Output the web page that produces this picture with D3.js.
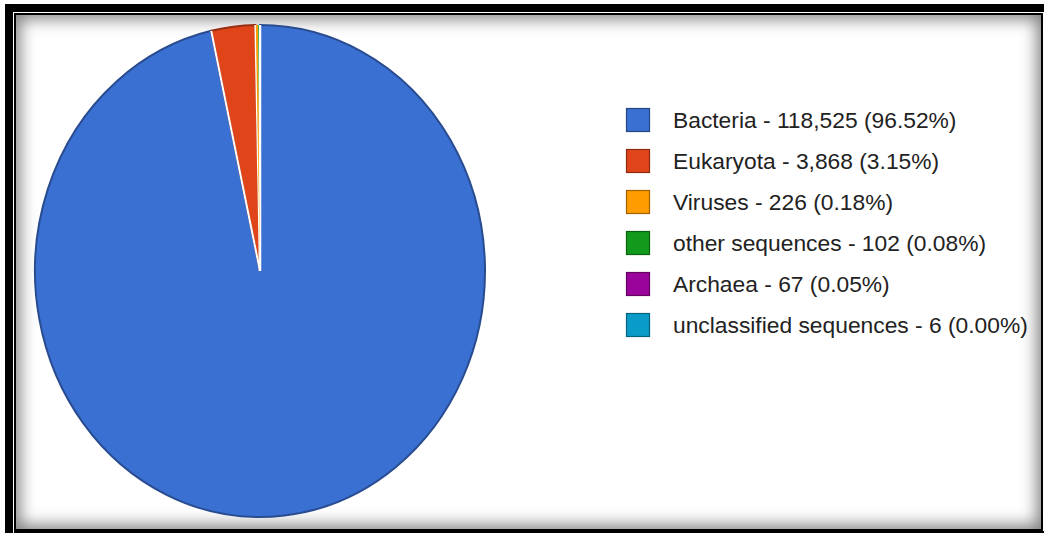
<!DOCTYPE html>
<html>
<head>
<meta charset="utf-8">
<script src="https://cdn.jsdelivr.net/npm/d3@7"></script>
<style>
  html, body { margin: 0; padding: 0; background: #fff; overflow: hidden; }
  #outer {
    position: absolute; left: 5px; top: 4px; width: 1100px; height: 600px;
    border-left: 8px solid #000; border-top: 8px solid #000;
  }
  #panel {
    position: absolute; left: 14px; top: 13px; width: 1025px; height: 514px;
    border: 2px solid #000; background: #fff;
    box-shadow: inset 0 0 16px 4px rgba(0,0,0,0.5);
  }
  #baseline { position: absolute; left: 14px; top: 531px; width: 1040px; height: 2px; background: #000; }
  #chart { position: absolute; left: 0; top: 0; }
</style>
</head>
<body>
<div id="outer"></div>
<div id="panel"></div>
<div id="baseline"></div>
<div id="chart"></div>
<script>
(() => {
  "use strict";

  // domains, counts, shares and colours
  const names = ["Bacteria", "Eukaryota", "Viruses", "other sequences", "Archaea", "unclassified sequences"];
  const counts = [118525, 3868, 226, 102, 67, 6];
  const shares = ["96.52%", "3.15%", "0.18%", "0.08%", "0.05%", "0.00%"];
  const colors = ["#3b70d3", "#e0451a", "#ff9c00", "#129a1c", "#9b049b", "#0a9cc8"];

  const W = 1044, H = 533;
  const NF = new Intl.NumberFormat("en-US");

  const svg = d3.select("#chart").append("svg")
    .attr("width", W).attr("height", H);

  /* ---------- pie (slightly stretched vertically, as in the picture) ---------- */
  const cx = 260, cy = 271, rx = 225, ry = 246;
  const pie = d3.pie().sort(null).value((d) => d.count);
  const arc = d3.arc().innerRadius(0).outerRadius(rx);
  const data = names.map((n, i) => ({ name: n, count: counts[i], color: colors[i] }));
  const arcs = pie(data);
  const total = d3.sum(counts);

  const g = svg.append("g")
    .attr("transform", `translate(${cx},${cy}) scale(1,${ry / rx})`);

  g.selectAll("path.slice")
    .data(arcs)
    .join("path")
    .attr("class", "slice")
    .attr("d", arc)
    .attr("fill", (d) => d.data.color)
    .attr("stroke", (d) => (d.data.count / total > 0.01 ? d3.color(d.data.color).darker(1.1) : "none"))
    .attr("stroke-width", 2)
    .attr("vector-effect", "non-scaling-stroke");

  // white separators: the tiny slices sit in a thin white gap at 12 o'clock
  const sep = (a, w) =>
    g.append("line")
      .attr("x1", 0).attr("y1", 0)
      .attr("x2", Math.sin(a) * rx).attr("y2", -Math.cos(a) * rx)
      .attr("stroke", "#fff").attr("stroke-width", w)
      .attr("vector-effect", "non-scaling-stroke");
  sep(arcs[0].startAngle, 2.5);
  sep(arcs[0].endAngle, 2);
  sep(arcs[1].endAngle, 2);
  // thin orange hairline of the tiny slices
  g.append("path")
    .attr("d", arc({ startAngle: arcs[2].startAngle + 0.002, endAngle: arcs[2].endAngle - 0.002 }))
    .attr("fill", colors[2]);

  /* ---------- legend ---------- */
  const legend = svg.append("g").attr("transform", "translate(626,108)");
  const rowH = 41;
  const rows = legend.selectAll("g.row")
    .data(data)
    .join("g")
    .attr("class", "row")
    .attr("transform", (d, i) => `translate(0,${i * rowH})`);

  rows.append("rect")
    .attr("x", 0.5).attr("y", 0.5)
    .attr("width", 23).attr("height", 23)
    .attr("fill", (d) => d.color)
    .attr("stroke", (d) => d3.color(d.color).darker(1.3))
    .attr("stroke-width", 1.2);

  rows.append("text")
    .attr("x", 47).attr("y", 20)
    .attr("font-family", "Liberation Sans, Arial, sans-serif")
    .attr("font-size", 22.8)
    .attr("fill", "#222")
    .text((d, i) => `${d.name} - ${NF.format(d.count)} (${shares[i]})`);
})();
</script>
</body>
</html>
